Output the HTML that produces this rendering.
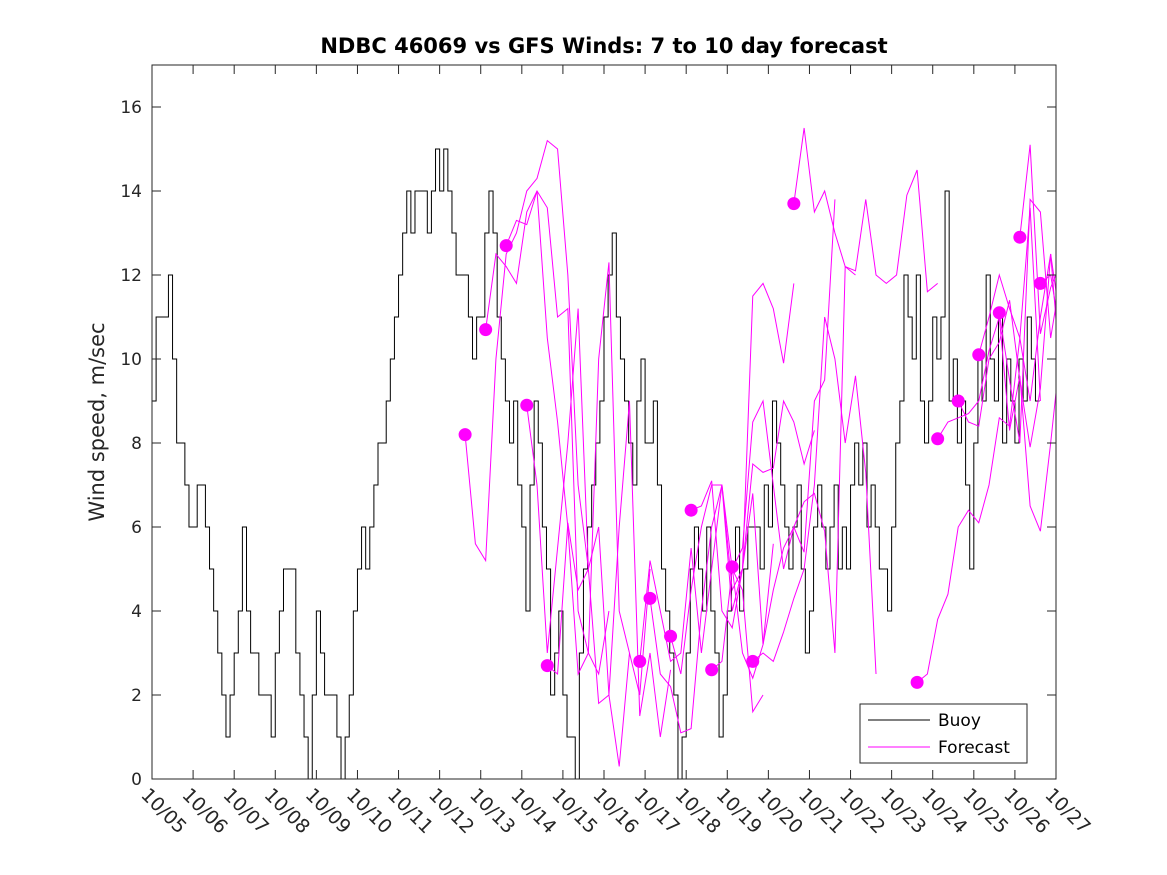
<!DOCTYPE html>
<html><head><meta charset="utf-8"><style>
body{margin:0;background:#fff}
svg{display:block;font-family:"DejaVu Sans","Liberation Sans",sans-serif}
</style></head><body>
<svg id="chart" width="1167" height="875" viewBox="0 0 1167 875">
<text x="604" y="53" text-anchor="middle" font-size="21" font-weight="bold" fill="#000">NDBC 46069 vs GFS Winds: 7 to 10 day forecast</text>
<text transform="translate(104,422) rotate(-90)" text-anchor="middle" font-size="21" fill="#262626">Wind speed, m/sec</text>
<defs><clipPath id="plotclip"><rect x="152" y="65" width="904" height="714"/></clipPath></defs>
<g id="marks" clip-path="url(#plotclip)"></g>
<g id="axes"></g>
<g>
<rect x="860" y="704" width="167" height="59" fill="#fff" stroke="#262626" stroke-width="1"/>
<line x1="868" y1="720" x2="930" y2="720" stroke="#000" stroke-width="1"/>
<text x="938" y="726" font-size="17" fill="#000">Buoy</text>
<line x1="868" y1="747" x2="930" y2="747" stroke="#ff00ff" stroke-width="1"/>
<text x="938" y="753" font-size="17" fill="#000">Forecast</text>
</g>
</svg>
<script>
const xTickLabels=["10/05","10/06","10/07","10/08","10/09","10/10","10/11","10/12","10/13","10/14","10/15","10/16","10/17","10/18","10/19","10/20","10/21","10/22","10/23","10/24","10/25","10/26","10/27"];
const yTicks=[0,2,4,6,8,10,12,14,16];
const buoyStep=0.1;
const buoyValues=[9,11,11,11,12,10,8,8,7,6,6,7,7,6,5,4,3,2,1,2,3,4,6,4,3,3,2,2,2,1,3,4,5,5,5,3,2,1,0,2,4,3,2,2,2,1,0,1,2,4,5,6,5,6,7,8,8,9,10,11,12,13,14,13,14,14,14,13,14,15,14,15,14,13,12,12,12,11,10,11,11,13,14,13,11,10,9,8,9,7,6,4,7,9,8,6,5,2,3,4,2,1,1,0,3,5,6,7,8,9,11,12,13,11,10,9,8,7,9,10,8,8,9,7,5,4,3,2,0,1,3,5,6,5,4,6,4,3,1,2,4,5,6,4,5,6,6,6,5,7,6,9,8,7,6,5,6,7,5,3,4,6,7,6,5,6,7,5,6,5,7,8,7,8,6,7,6,5,5,4,6,8,9,12,11,10,12,9,8,9,11,10,11,14,9,10,8,9,7,5,8,10,9,12,10,9,11,8,10,9,8,10,9,11,10,9];
const forecastStarts=[7.62,8.12,8.62,9.12,9.62,11.87,12.12,12.62,13.12,13.62,14.12,14.62,15.62,18.62,19.12,19.62,20.12,20.62,21.12,21.62];
const forecastStep=0.25;
const forecastValues=[
[8.2,5.6,5.2,10,12.5,13,14,14.3,15.2,15,12,7,5],
[10.7,12.5,12.2,11.8,13.5,14,13.6,11,11.2,4,3,2.5,4],
[12.7,13.3,13.2,14,10.5,8.5,6,2.5,3,10,12.3,4,3],
[8.9,7,3,5.5,8,11.2,5,6,2,0.3,3,2,5],
[2.7,2.5,6.1,4.5,5,1.8,2,6,9,1.5,3,1,2.6],
[2.8,5.2,4,2.8,3,5.5,3,5,7,5,4.5,1.6,2],
[4.3,2.5,2.2,1.1,1.2,4,6,7,4.5,5,6.8,3.2,5.6],
[3.4,2.5,4.5,6,7,7,4,5,11.5,11.8,11.2,9.9,11.8],
[6.4,6.5,7.1,4,3.6,5,7.5,7.3,7.4,9,8.5,7.5,8.3],
[2.6,2.8,5,5.5,8.5,9,7,5,6,5.4,9,9.5,13.8],
[5.05,3,2.4,3.2,4.5,5.5,6,6.6,6.8,5.9,3,12.2,12],
[2.8,3,2.8,3.5,4.3,5,7,11,10,8,9.6,7.3,2.5],
[13.7,15.5,13.5,14,13,12.2,12.1,13.8,12,11.8,12,13.9,14.5,11.6,11.8],
[2.3,2.5,3.8,4.4,6,6.4,6.1,7,8.6,8.4,10.5,13.6,9],
[8.1,8.5,8.6,8.7,9,10.2,11,8.3,9.6,6.5,5.9,8,10.3],
[9,8.5,8.4,10,10.4,11.4,9.5,7.9,9.3,12.5,9.5,4.2,5.2],
[10.1,11,12,11.2,10.5,9,11,12.5,10.8,13.8,13.2,12],
[11.1,9.5,8,13.8,13.5,10.5,12,14.2],
[12.9,15.1,10.6,11.7,12.3,14],
[11.8,12,10.5,12.2,14.3]
];
const X0=152,X1=1056,Y0=779,Y1=65,DAYS=22,YMAX=17;
function xs(d){return X0+(X1-X0)*d/DAYS;}
function ys(v){return Y0-(Y0-Y1)*v/YMAX;}
const NS="http://www.w3.org/2000/svg";
const marks=document.getElementById('marks'),axes=document.getElementById('axes');
function mk(tag,attrs,parent){const e=document.createElementNS(NS,tag);for(const k in attrs)e.setAttribute(k,attrs[k]);parent.appendChild(e);return e;}
let d="";
buoyValues.forEach((v,i)=>{const x=xs(i*buoyStep),y=ys(v);if(i===0)d+="M"+x+","+y;else d+="H"+x+"V"+y;});
d+="H"+xs(buoyValues.length*buoyStep);
const bp=mk('path',{d:d,fill:'none',stroke:'#000','stroke-width':1},marks);


forecastValues.forEach((arr,k)=>{
  const pts=arr.map((v,i)=>xs(forecastStarts[k]+i*forecastStep)+","+ys(v)).join(" ");
  const pl=mk('polyline',{points:pts,fill:'none',stroke:'#ff00ff','stroke-width':1},marks);
  
  
});
forecastValues.forEach((arr,k)=>{
  const c=mk('circle',{cx:xs(forecastStarts[k]),cy:ys(arr[0]),r:6.5,fill:'#ff00ff'},marks);
  
  
});
const frame=mk('rect',{x:X0,y:Y1,width:X1-X0,height:Y0-Y1,fill:'none',stroke:'#262626','stroke-width':1},axes);


yTicks.forEach(v=>{
  const y=ys(v);
  mk('line',{x1:X0,y1:y,x2:X0+9,y2:y,stroke:'#262626'},axes);
  mk('line',{x1:X1,y1:y,x2:X1-9,y2:y,stroke:'#262626'},axes);
  const t=mk('text',{x:X0-10,y:y+6,'text-anchor':'end','font-size':17,fill:'#262626'},axes);
  t.textContent=v;
  
  
});
xTickLabels.forEach((lab,i)=>{
  const x=xs(i);
  mk('line',{x1:x,y1:Y0,x2:x,y2:Y0-9,stroke:'#262626'},axes);
  mk('line',{x1:x,y1:Y1,x2:x,y2:Y1+9,stroke:'#262626'},axes);
  const t=mk('text',{transform:'translate('+(x-12)+','+(Y0+17)+') rotate(45)','font-size':19,fill:'#262626'},axes);
  t.textContent=lab;
  
  
});
</script>
</body></html>
